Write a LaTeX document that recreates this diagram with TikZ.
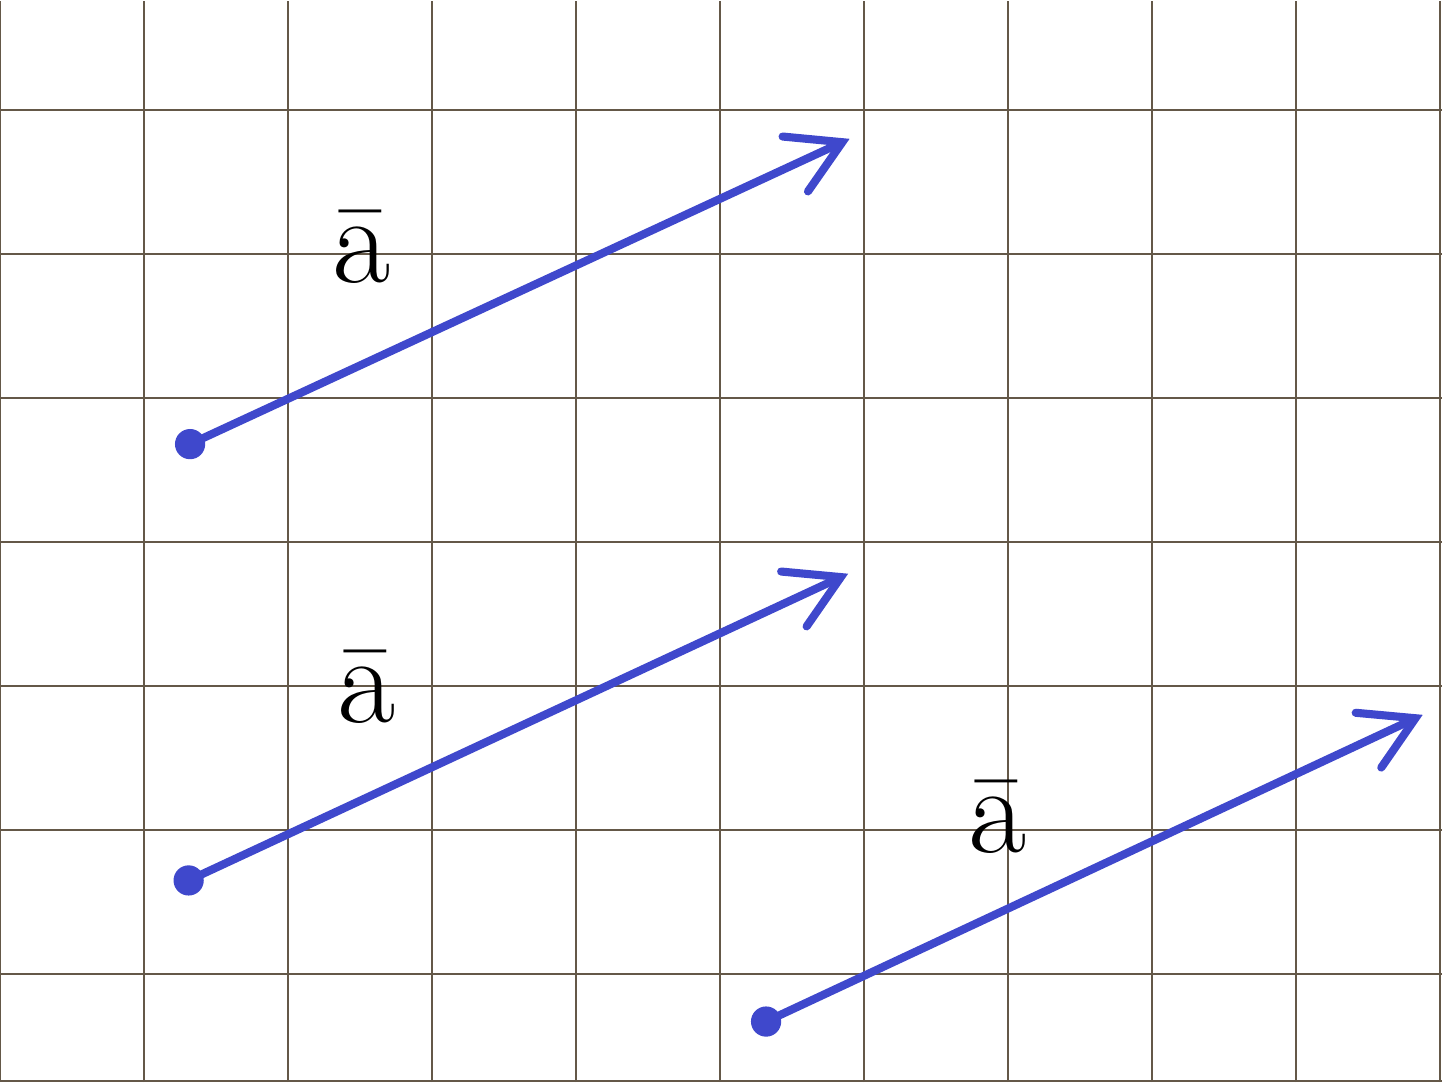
\documentclass[tikz,border=0pt]{standalone}
\usepackage{amsmath,amssymb}
\usepackage{tikz}
\usetikzlibrary{arrows.meta}

\definecolor{gridbrown}{RGB}{100,88,72}
\definecolor{vecblue}{RGB}{63,72,204}

\begin{document}
\begin{tikzpicture}[scale=1.0,
  gridline/.style={gridbrown, line width=0.4pt},
  vec/.style={vecblue, line width=1.6pt, line cap=round,
    -{Straight Barb[length=3.6mm, width=4.2mm, line cap=round]}},
  dot/.style={circle, fill=vecblue, inner sep=0pt, minimum size=2.1mm},
  lbl/.style={font=\fontsize{25}{30}\selectfont}]
  \useasboundingbox (0,0) rectangle (10.014,7.514);
  % Grid paper
  \draw[gridline, shift={(0,0.75)}] (0,-0.75) grid (10.014,6.76);
  \draw[gridline] (0,0.01) -- (10.014,0.01);
  % Vector 1 (top)
  \node[dot] (s1) at (1.32,4.43) {};
  \coordinate (e1) at (5.90,6.55);
  \draw[vec] (s1.center) -- (e1);
  \node[lbl] (l1) at (2.50,5.80) {$\bar{\mathrm{a}}$};
  % Vector 2 (middle)
  \node[dot] (s2) at (1.31,1.40) {};
  \coordinate (e2) at (5.89,3.53);
  \draw[vec] (s2.center) -- (e2);
  \node[lbl] (l2) at (2.54,2.74) {$\bar{\mathrm{a}}$};
  % Vector 3 (bottom right)
  \node[dot] (s3) at (5.32,0.42) {};
  \coordinate (e3) at (9.88,2.55);
  \draw[vec] (s3.center) -- (e3);
  \node[lbl] (l3) at (6.92,1.84) {$\bar{\mathrm{a}}$};
\end{tikzpicture}
\end{document}
